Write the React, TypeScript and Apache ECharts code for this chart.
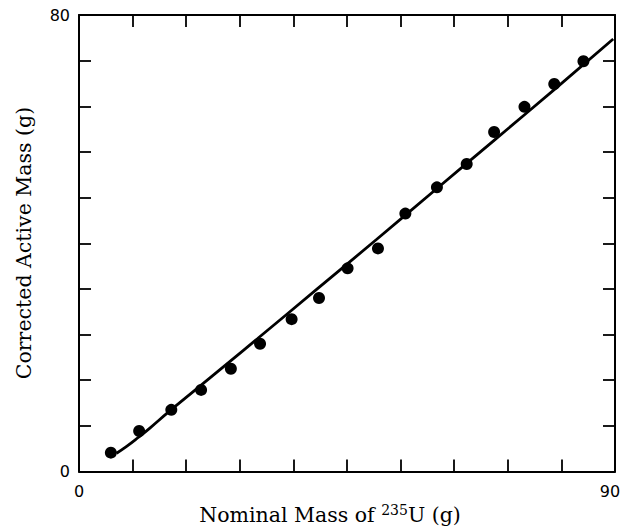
import React, { useEffect, useRef } from "react";
import * as echarts from "echarts";

const nominalMass = [5.35, 10.1, 15.5, 20.5, 25.5, 30.4, 35.7, 40.3, 45.1, 50.2, 54.8, 60.1, 65.1, 69.7, 74.8, 79.8, 84.7];
const correctedMass = [3.3, 7.1, 10.8, 14.3, 18.0, 22.4, 26.7, 30.4, 35.6, 39.1, 45.2, 49.8, 53.9, 59.5, 63.9, 67.9, 71.9];
const fitX = [6.3, 8, 10, 12, 15, 20, 25, 30, 40, 50, 60, 70, 80, 89.7];
const fitY = [3.2, 4.4, 6.0, 7.7, 10.4, 14.7, 19.0, 23.3, 32.0, 40.7, 49.5, 58.3, 67.1, 75.8];
const xShownLabels = [0, 90];
const yShownLabels = [0, 80];

export default function App() {
  const ref = useRef<HTMLDivElement>(null);
  useEffect(() => {
    if (!ref.current) return;
    const chart = echarts.init(ref.current, null, { renderer: "svg" });
    const black = "#000";
    const tickStyle = { show: true, inside: true, length: 12, lineStyle: { color: black, width: 1.8 } };
    const lineStyle = { show: true, onZero: false, lineStyle: { color: black, width: 2 } };
    const labelFont = { fontFamily: "DejaVu Sans", fontSize: 16, color: black };
    chart.setOption({
      animation: false,
      backgroundColor: "#fff",
      grid: { left: 79, right: 6, top: 15, bottom: 56.5, containLabel: false, outerBoundsMode: "none" },
      xAxis: [
        {
          type: "value", min: 0, max: 90, interval: 9, position: "bottom",
          axisLine: lineStyle, axisTick: tickStyle, splitLine: { show: false },
          axisLabel: {
            ...labelFont, margin: 12,
            formatter: (v: number) =>
              v === 90 ? "{r|90}" : xShownLabels.includes(v) ? String(v) : "",
            rich: {
              r: { fontFamily: "DejaVu Sans", fontSize: 16, color: black, padding: [0, 10, 0, 0] },
            },
          },
        },
        {
          type: "value", min: 0, max: 90, interval: 9, position: "top",
          axisLine: lineStyle, axisTick: tickStyle, splitLine: { show: false },
          axisLabel: { show: false },
        },
      ],
      yAxis: [
        {
          type: "value", min: 0, max: 80, interval: 8, position: "left",
          axisLine: lineStyle, axisTick: tickStyle, splitLine: { show: false },
          axisLabel: {
            ...labelFont, margin: 9,
            formatter: (v: number) => (yShownLabels.includes(v) ? String(v) : ""),
          },
        },
        {
          type: "value", min: 0, max: 80, interval: 8, position: "right",
          axisLine: lineStyle, axisTick: tickStyle, splitLine: { show: false },
          axisLabel: { show: false },
        },
      ],
      graphic: [
        {
          type: "text",
          x: 24, y: 243, rotation: Math.PI / 2,
          style: {
            text: "Corrected Active Mass (g)",
            fontFamily: "DejaVu Serif", fontSize: 20.5, fill: black,
            textAlign: "center", textVerticalAlign: "middle",
          },
        },
        {
          type: "text",
          x: 330, y: 514,
          style: {
            text: "{a|Nominal Mass of }{s|235}{a|U (g)}",
            textAlign: "center", textVerticalAlign: "middle",
            rich: {
              a: { fontFamily: "DejaVu Serif", fontSize: 20.5, fill: black, verticalAlign: "bottom" },
              s: { fontFamily: "DejaVu Serif", fontSize: 14, fill: black, verticalAlign: "bottom", padding: [0, 0, 9, 0] },
            },
          },
        },
      ],
      series: [
        {
          type: "line",
          xAxisIndex: 0, yAxisIndex: 0,
          data: fitX.map((x, i) => [x, fitY[i]]),
          smooth: true,
          showSymbol: false,
          lineStyle: { color: black, width: 2.8 },
          z: 2,
        },
        {
          type: "scatter",
          xAxisIndex: 0, yAxisIndex: 0,
          data: nominalMass.map((x, i) => [x, correctedMass[i]]),
          symbol: "circle",
          symbolSize: 12,
          itemStyle: { color: black, opacity: 1 },
          z: 3,
        },
      ],
    });
    return () => chart.dispose();
  }, []);
  return (
    <div
      ref={ref}
      style={{ position: "fixed", left: 0, top: 0, width: 621, height: 528, background: "#fff" }}
    />
  );
}
